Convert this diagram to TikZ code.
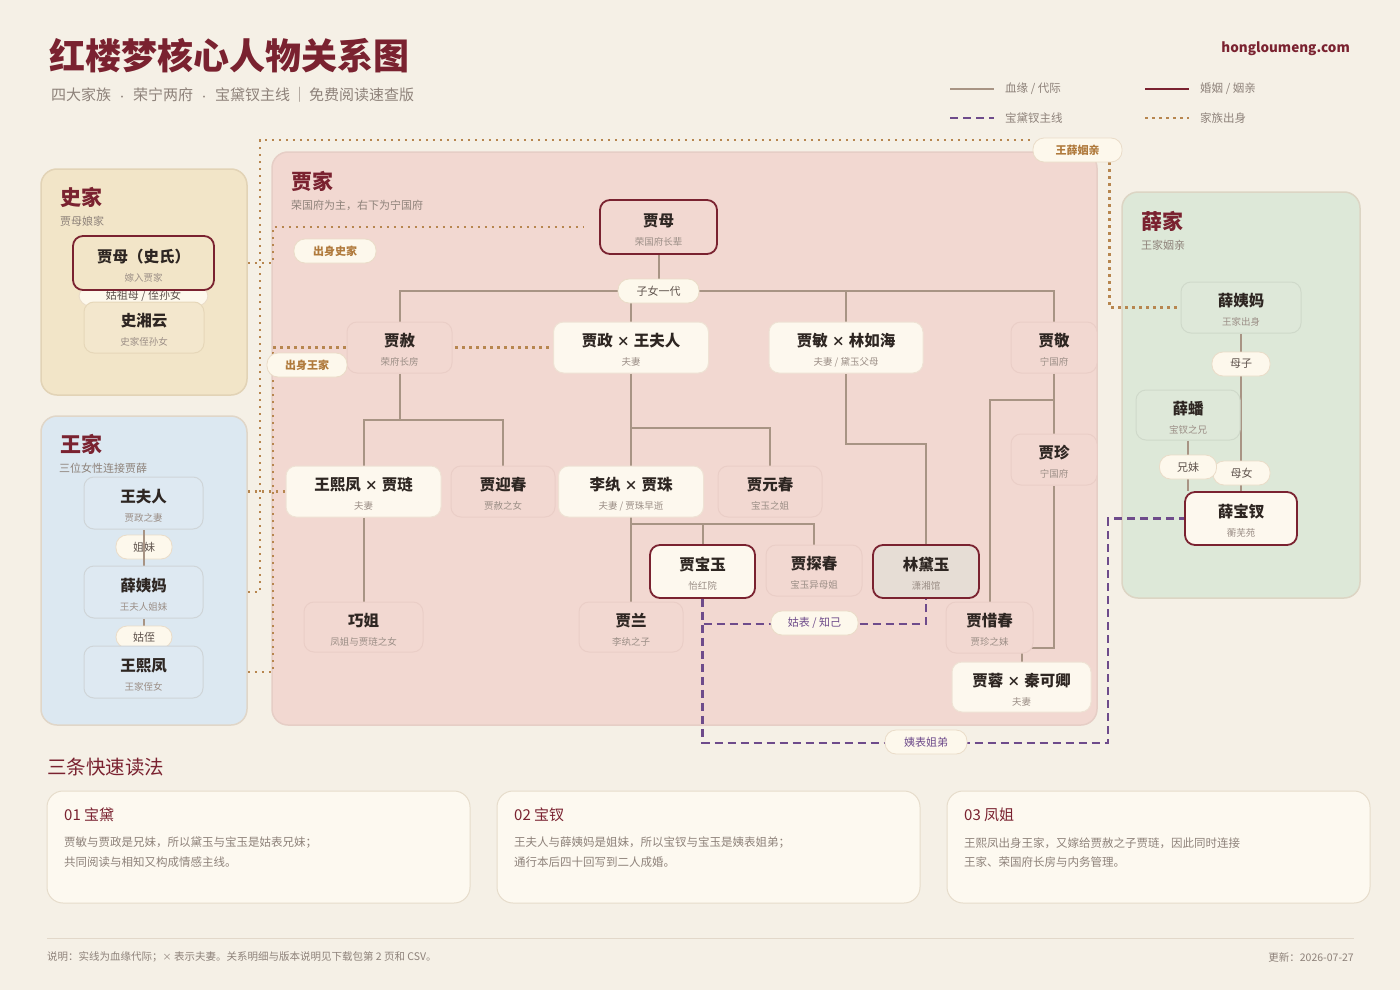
\documentclass[tikz,border=0pt]{standalone}
\usepackage{fontspec}
\setmainfont{Noto Sans CJK SC}
\usetikzlibrary{calc}
\definecolor{bg}{HTML}{F5F0E6}
\definecolor{titlec}{HTML}{7A2230}
\definecolor{ink}{HTML}{2E2622}
\definecolor{subc}{HTML}{9B8E86}
\definecolor{graytxt}{HTML}{8E827A}
\definecolor{shibg}{HTML}{F2E5C8}
\definecolor{shiline}{HTML}{E2D3B6}
\definecolor{shibox}{HTML}{F3E7CD}
\definecolor{shiboxl}{HTML}{E6D7B9}
\definecolor{wangbg}{HTML}{DCE8F1}
\definecolor{wangline}{HTML}{E0D6C8}
\definecolor{wangbox}{HTML}{DEE9F2}
\definecolor{wangboxl}{HTML}{CFD5D8}
\definecolor{jiabg}{HTML}{F2D8D1}
\definecolor{jialine}{HTML}{E6CEC6}
\definecolor{pinkbox}{HTML}{F2D8D1}
\definecolor{pinkboxl}{HTML}{EACEC7}
\definecolor{xuebg}{HTML}{DDE8D8}
\definecolor{xueline}{HTML}{DCD5C4}
\definecolor{xuebox}{HTML}{DEE8D9}
\definecolor{xueboxl}{HTML}{CFD9CA}
\definecolor{cream}{HTML}{FDF8EE}
\definecolor{creamline}{HTML}{EFE2D4}
\definecolor{keyred}{HTML}{7A2230}
\definecolor{daiyuf}{HTML}{E6DDD5}
\definecolor{blood}{HTML}{A89484}
\definecolor{mainp}{HTML}{6E4B8B}
\definecolor{orig}{HTML}{B7864F}
\definecolor{pillf}{HTML}{FDF8EC}
\definecolor{pilll}{HTML}{EADCC8}
\definecolor{pilltxt}{HTML}{5E524C}
\definecolor{origtxt}{HTML}{B07A3C}
\definecolor{cardf}{HTML}{FDF9F0}
\definecolor{cardl}{HTML}{E6DCCB}
\definecolor{divl}{HTML}{E2D8CA}
\pgfdeclarelayer{panel}
\pgfdeclarelayer{under}
\pgfdeclarelayer{lines}
\pgfsetlayers{panel,under,lines,main}
\newcommand\hlmp[8]{%
  \node[#6,minimum width=#4,minimum height=#5] (#1) at (#2,#3) {};
  \node[nm] (#1-t) at (#2,#3-6.5) {#7};
  \node[sb] (#1-s) at (#2,#3+14.5) {#8};
}
\newcommand\hx{\hspace{4pt}{\fontsize{13}{13}\selectfont ×}\hspace{4pt}}
\newcommand\hdot{\hspace{6.5pt}{\fontsize{9}{9}\selectfont ·}\hspace{6.5pt}}
\begin{document}
\begin{tikzpicture}[x=1pt,y=-1pt,
  panel/.style={rectangle,rounded corners=16pt,line width=1.5pt,inner sep=0pt},
  pbox/.style={rectangle,rounded corners=10pt,line width=1pt,inner sep=0pt},
  creamb/.style={pbox,fill=cream,draw=creamline},
  pinkb/.style={pbox,fill=pinkbox,draw=pinkboxl},
  shib/.style={pbox,fill=shibox,draw=shiboxl},
  wangb/.style={pbox,fill=wangbox,draw=wangboxl},
  xueb/.style={pbox,fill=xuebox,draw=xueboxl},
  keyS/.style={pbox,fill=shibg,draw=keyred,line width=1.8pt},
  keyP/.style={pbox,fill=jiabg,draw=keyred,line width=1.8pt},
  keyC/.style={pbox,fill=cream,draw=keyred,line width=1.8pt},
  keyG/.style={pbox,fill=daiyuf,draw=keyred,line width=1.8pt},
  nm/.style={inner sep=0pt,text=ink,font=\fontsize{15.5}{18}\selectfont\bfseries},
  sb/.style={inner sep=0pt,text=subc,font=\fontsize{9.5}{11}\selectfont},
  pill/.style={rectangle,rounded corners=11pt,fill=pillf,draw=pilll,line width=0.8pt,
    minimum height=24,inner sep=0pt,text=pilltxt,font=\fontsize{11}{13}\selectfont},
  opill/.style={pill,text=origtxt,font=\fontsize{11}{13}\selectfont\bfseries},
  ppill/.style={pill,text=mainp},
  ptitle/.style={anchor=west,inner sep=0pt,text=titlec,font=\fontsize{21}{24}\selectfont\bfseries},
  psub/.style={anchor=west,inner sep=0pt,text=graytxt,font=\fontsize{11}{13}\selectfont},
  bloodl/.style={draw=blood,line width=2pt},
  marrl/.style={draw=keyred,line width=2.5pt},
  mainl/.style={draw=mainp,line width=2.6pt,dash pattern=on 8pt off 5pt},
  origl/.style={draw=orig,line width=2.5pt,dash pattern=on 2.5pt off 4.5pt},
  legt/.style={anchor=west,inner sep=0pt,text=graytxt,font=\fontsize{11.5}{13}\selectfont},
  card/.style={rectangle,rounded corners=16pt,fill=cardf,draw=cardl,line width=1pt,
    minimum width=423,minimum height=112,inner sep=0pt},
  ctitle/.style={anchor=west,inner sep=0pt,text=titlec,font=\fontsize{15}{18}\selectfont},
  cbody/.style={anchor=west,inner sep=0pt,text=graytxt,font=\fontsize{11.5}{13}\selectfont},
]
\useasboundingbox (0,0) rectangle (1400,990);
\begin{pgfonlayer}{panel}
  \fill[bg] (0,0) rectangle (1400,990);
  \node[panel,fill=shibg,draw=shiline,minimum width=206,minimum height=226] (shipanel) at (144,282) {};
  \node[panel,fill=wangbg,draw=wangline,minimum width=206,minimum height=309] (wangpanel) at (144,570.5) {};
  \node[panel,fill=jiabg,draw=jialine,minimum width=825,minimum height=573] (jiapanel) at (684.5,438.5) {};
  \node[panel,fill=xuebg,draw=xueline,minimum width=238,minimum height=406] (xuepanel) at (1241,395) {};
\end{pgfonlayer}

% ---------- header ----------
\node[anchor=west,inner sep=0pt,text=titlec,font=\fontsize{36}{40}\selectfont\bfseries] (title) at (49,56) {红楼梦核心人物关系图};
\node[anchor=west,inner sep=0pt,text=graytxt,font=\fontsize{15}{18}\selectfont] (subtitle) at (51,95) {四大家族\hdot 荣宁两府\hdot 宝黛钗主线\hspace{2pt}｜\hspace{2pt}免费阅读速查版};
\node[anchor=east,inner sep=0pt,text=titlec,font=\fontsize{13.5}{16}\selectfont\bfseries] (site) at (1350,49) {hongloumeng.com};

% ---------- legend ----------
\coordinate (lg1a) at (950,89); \coordinate (lg1b) at (994,89);
\coordinate (lg2a) at (1145,89); \coordinate (lg2b) at (1189,89);
\coordinate (lg3a) at (950,118); \coordinate (lg3b) at (994,118);
\coordinate (lg4a) at (1145,118); \coordinate (lg4b) at (1189,118);
\draw[bloodl] (lg1a) -- (lg1b);
\draw[marrl] (lg2a) -- (lg2b);
\draw[mainl] (lg3a) -- (lg3b);
\draw[origl] (lg4a) -- (lg4b);
\node[legt] (lt1) at (1005,89) {血缘 / 代际};
\node[legt] (lt2) at (1200,89) {婚姻 / 姻亲};
\node[legt] (lt3) at (1005,118) {宝黛钗主线};
\node[legt] (lt4) at (1200,118) {家族出身};

% ---------- panel titles ----------
\node[ptitle] (shiT) at (60,197) {史家};
\node[psub] (shiS) at (60,221) {贾母娘家};
\node[ptitle] (wangT) at (60,444) {王家};
\node[psub] (wangS) at (59,468) {三位女性连接贾薛};
\node[ptitle] (jiaT) at (291,181) {贾家};
\node[psub] (jiaS) at (291,205) {荣国府为主，右下为宁国府};
\node[ptitle] (xueT) at (1141,221) {薛家};
\node[psub] (xueS) at (1141,245) {王家姻亲};

% ---------- Shi family ----------
\node[pill,minimum width=129,minimum height=20] (gzm) at (143.5,296) {姑祖母 / 侄孙女};
\hlmp{jmshi}{143.5}{263}{141}{54}{keyS}{贾母（史氏）}{嫁入贾家}
\hlmp{xiangyun}{144}{327.5}{120}{51}{shib}{史湘云}{史家侄孙女}

% ---------- Wang family ----------
\begin{pgfonlayer}{under}
\node[pill,minimum width=56] (jiemei) at (144,547) {姐妹};
\end{pgfonlayer}
\hlmp{wfr}{143.5}{503}{119}{52}{wangb}{王夫人}{贾政之妻}
\hlmp{xym1}{143.5}{592}{119}{52}{wangb}{薛姨妈}{王夫人姐妹}
\node[pill,minimum width=56,minimum height=22] (guzhi) at (144,637) {姑侄};
\hlmp{xfw}{143.5}{672}{119}{52}{wangb}{王熙凤}{王家侄女}

% ---------- Jia family ----------
\hlmp{jiamu}{658.5}{227}{117}{54}{keyP}{贾母}{荣国府长辈}
\node[pill,minimum width=81] (zn) at (658.5,291) {子女一代};
\hlmp{jiashe}{399.5}{347.5}{105}{51}{pinkb}{贾赦}{荣府长房}
\hlmp{jiazheng}{631}{347.5}{155}{51}{creamb}{贾政\hx 王夫人}{夫妻}
\hlmp{jiamin}{846}{347.5}{154}{51}{creamb}{贾敏\hx 林如海}{夫妻 / 黛玉父母}
\hlmp{jiajing}{1054}{347.5}{86}{51}{pinkb}{贾敬}{宁国府}
\hlmp{xfjl}{363.5}{491.5}{155}{51}{creamb}{王熙凤\hx 贾琏}{夫妻}
\hlmp{yingchun}{503}{491.5}{104}{51}{pinkb}{贾迎春}{贾赦之女}
\hlmp{lizhu}{631}{491.5}{145}{51}{creamb}{李纨\hx 贾珠}{夫妻 / 贾珠早逝}
\hlmp{yuanchun}{770}{491.5}{104}{51}{pinkb}{贾元春}{宝玉之姐}
\hlmp{jiazhen}{1054}{459.5}{86}{51}{pinkb}{贾珍}{宁国府}
\hlmp{baoyu}{702.5}{571.5}{105}{53}{keyC}{贾宝玉}{怡红院}
\hlmp{tanchun}{814}{570.5}{96}{51}{pinkb}{贾探春}{宝玉异母姐}
\hlmp{daiyu}{926}{571.5}{106}{53}{keyG}{林黛玉}{潇湘馆}
\hlmp{qiaojie}{363.5}{627}{119}{50}{pinkb}{巧姐}{凤姐与贾琏之女}
\hlmp{jialan}{631}{627}{104}{50}{pinkb}{贾兰}{李纨之子}
\hlmp{xichun}{989.5}{627.5}{87}{51}{pinkb}{贾惜春}{贾珍之妹}
\hlmp{rongqin}{1021.5}{687}{139}{50}{creamb}{贾蓉\hx 秦可卿}{夫妻}
\node[opill,minimum width=82] (chushi) at (335,251) {出身史家};
\node[opill,minimum width=80] (chuwang) at (307,365) {出身王家};
\node[ppill,minimum width=87] (gubiao) at (814.5,623) {姑表 / 知己};
\node[ppill,minimum width=82] (yibiao) at (926,742) {姨表姐弟};
\node[opill,minimum width=89] (wx) at (1077.5,150) {王薛姻亲};

% ---------- Xue family ----------
\hlmp{xym2}{1241}{307.5}{120}{51}{xueb}{薛姨妈}{王家出身}
\node[pill,minimum width=58] (muzi) at (1241,364) {母子};
\hlmp{xuepan}{1188}{415}{104}{50}{xueb}{薛蟠}{宝钗之兄}
\node[pill,minimum width=57] (munv) at (1241.5,473) {母女};
\node[pill,minimum width=57] (xiongmei) at (1188,467) {兄妹};
\hlmp{baochai}{1241}{518.5}{112}{53}{keyC}{薛宝钗}{蘅芜苑}

% ---------- connectors ----------
\begin{pgfonlayer}{lines}
  % blood lines
  \draw[bloodl] (jmshi.south) -- (xiangyun.north);
  \draw[bloodl] (wfr.south) -- (xym1.north);
  \draw[bloodl] (xym1.south) -- (xfw.north);
  \draw[bloodl] (jiamu.south) -- (zn.north);
  \draw[bloodl] (zn.west) -| (jiashe.north);
  \draw[bloodl] (zn.east) -| (jiajing.north);
  \draw[bloodl] (zn.east) -| (jiamin.north);
  \draw[bloodl] (zn.south -| jiazheng.north) -- (jiazheng.north);
  \draw[bloodl] (jiashe.south) -- ++(0,46) -| (xfjl.north);
  \draw[bloodl] (jiashe.south) -- ++(0,46) -| (yingchun.north);
  \draw[bloodl] (jiazheng.south) -- (jialan.north);
  \draw[bloodl] (jiazheng.south) -- ++(0,54) -| (yuanchun.north);
  \draw[bloodl] (lizhu.south) -- ++(0,6) -| (baoyu.north);
  \draw[bloodl] (lizhu.south) -- ++(0,6) -| (tanchun.north);
  \draw[bloodl] (jiamin.south) -- ++(0,70) -| (daiyu.north);
  \draw[bloodl] (jiajing.south) -- (jiazhen.north);
  \draw[bloodl] (jiajing.south) -- ++(0,26) -| (xichun.north);
  \draw[bloodl] (jiazhen.south) -- ++(0,162) -| (rongqin.north);
  \draw[bloodl] (xfjl.south) -- (qiaojie.north);
  \draw[bloodl] (xym2.south) -- (baochai.north);
  \draw[bloodl] (xuepan.south) -- (xuepan.south |- baochai.north);
  % family origin (dotted)
  \draw[origl] (shipanel.east |- jmshi.east) -- ++(25,0) |- ($(jiamu.west)+(-15,0)$);
  \draw[origl] (wangpanel.east |- xfw.east) -- ++(25,0) |- (jiazheng.west);
  \draw[origl] (wangpanel.east |- xfjl.west) -- (xfjl.west);
  \draw[origl] (wangpanel.east |- xym1.east) -- ++(12,0) |- ($(wx.west)+(0,-10)$);
  \draw[origl] ($(wx.south)+(32,0)$) |- (xym2.west);
  % main line (dashed purple)
  \draw[mainl] (baoyu.south) -- ++(0,144) -| ($(baochai.west)+(-76,0)$) -- (baochai.west);
  \draw[mainl] (baoyu.south) -- ++(0,25) -| (daiyu.south);
\end{pgfonlayer}

% ---------- bottom ----------
\node[anchor=west,inner sep=0pt,text=titlec,font=\fontsize{19.5}{22}\selectfont] (readT) at (47,767) {三条快速读法};
\node[card] (card1) at (258.5,847) {};
\node[card] (card2) at (708.5,847) {};
\node[card] (card3) at (1158.5,847) {};
\node[ctitle] (c1t) at (64,815) {01 宝黛};
\node[cbody] (c1a) at (64,843) {贾敏与贾政是兄妹，所以黛玉与宝玉是姑表兄妹；};
\node[cbody] (c1b) at (64,862) {共同阅读与相知又构成情感主线。};
\node[ctitle] (c2t) at (514,815) {02 宝钗};
\node[cbody] (c2a) at (514,843) {王夫人与薛姨妈是姐妹，所以宝钗与宝玉是姨表姐弟；};
\node[cbody] (c2b) at (514,862) {通行本后四十回写到二人成婚。};
\node[ctitle] (c3t) at (964,815) {03 凤姐};
\node[cbody] (c3a) at (964,843) {王熙凤出身王家，又嫁给贾赦之子贾琏，因此同时连接};
\node[cbody] (c3b) at (964,862) {王家、荣国府长房与内务管理。};
\coordinate (dv1) at (47,938); \coordinate (dv2) at (1354,938);
\draw[draw=divl,line width=1pt] (dv1) -- (dv2);
\node[anchor=west,inner sep=0pt,text=graytxt,font=\fontsize{10.5}{12}\selectfont] (foot) at (47,957) {说明：实线为血缘代际；{\fontsize{9}{9}\selectfont ×} 表示夫妻。关系明细与版本说明见下载包第 2 页和 CSV。};
\node[anchor=east,inner sep=0pt,text=graytxt,font=\fontsize{10.5}{12}\selectfont] (upd) at (1354,957) {更新：2026-07-27};
\end{tikzpicture}
\end{document}
